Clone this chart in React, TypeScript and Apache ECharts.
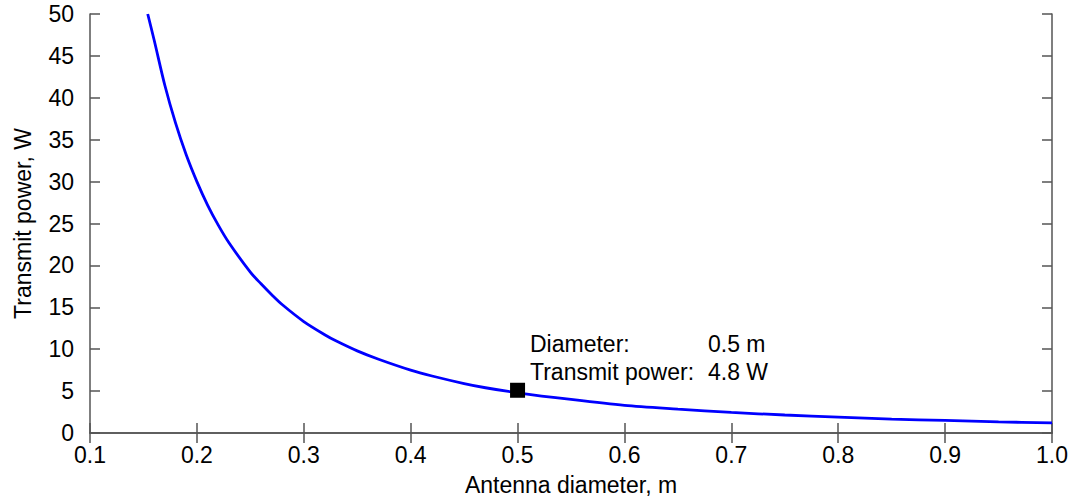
import React, { useEffect, useRef } from "react";
import * as echarts from "echarts";

const diameters = [0.154, 0.16, 0.17, 0.18, 0.19, 0.2, 0.21, 0.22, 0.23, 0.25, 0.26, 0.27, 0.28, 0.3, 0.32, 0.33, 0.35, 0.37, 0.4, 0.42, 0.45, 0.47, 0.5, 0.55, 0.6, 0.65, 0.7, 0.75, 0.8, 0.85, 0.9, 0.95, 1.0];
const powers = [50, 46.9, 41.5, 37, 33.2, 30, 27.2, 24.8, 22.7, 19.2, 17.8, 16.5, 15.3, 13.3, 11.7, 11.0, 9.8, 8.8, 7.5, 6.8, 5.9, 5.4, 4.8, 4.0, 3.3, 2.85, 2.45, 2.15, 1.9, 1.65, 1.5, 1.33, 1.2];
const markerPoint = [0.5, 5.1];
const xTitle = "Antenna diameter, m";
const yTitle = "Transmit power, W";
const annotationLabels = ["Diameter:", "Transmit power:"];
const annotationValues = ["0.5 m", "4.8 W"];

const FONT = "Liberation Sans, Arial, sans-serif";
const AXIS_COLOR = "#555";
const FS = 23;

export default function App() {
  const ref = useRef<HTMLDivElement>(null);
  useEffect(() => {
    if (!ref.current) return;
    const chart = echarts.init(ref.current, null, { renderer: "svg" });
    const axisCommon = {
      axisLine: { show: true, lineStyle: { color: AXIS_COLOR, width: 1.5 } },
      axisTick: { show: true, inside: true, length: 10, lineStyle: { color: AXIS_COLOR, width: 1.5 } },
      splitLine: { show: false },
    };
    chart.setOption({
      animation: false,
      backgroundColor: "#fff",
      grid: { left: 90, right: 20, top: 14, bottom: 65, containLabel: false, outerBoundsMode: "none" },
      xAxis: [
        {
          type: "value",
          min: 0.1,
          max: 1.0,
          interval: 0.1,
          ...axisCommon,
          axisLabel: {
            color: "#000",
            fontSize: FS,
            fontFamily: FONT,
            margin: 10,
            formatter: (v: number) => v.toFixed(1),
          },
          name: xTitle,
          nameLocation: "middle",
          nameGap: 40,
          nameTextStyle: { color: "#000", fontSize: FS, fontFamily: FONT, lineHeight: 24 },
        },
        {
          type: "value",
          position: "top",
          min: 0.1,
          max: 1.0,
          interval: 0.1,
          ...axisCommon,
          axisLabel: { show: false },
        },
      ],
      yAxis: [
        {
          type: "value",
          min: 0,
          max: 50,
          interval: 5,
          ...axisCommon,
          axisLabel: { color: "#000", fontSize: FS, fontFamily: FONT, margin: 16 },
          name: yTitle,
          nameLocation: "middle",
          nameGap: 56,
          nameRotate: 90,
          nameTextStyle: { color: "#000", fontSize: FS, fontFamily: FONT },
        },
        {
          type: "value",
          position: "right",
          min: 0,
          max: 50,
          interval: 5,
          ...axisCommon,
          axisLabel: { show: false },
        },
      ],
      series: [
        {
          type: "line",
          data: diameters.map((d, i) => [d, powers[i]]),
          smooth: 0.3,
          showSymbol: false,
          lineStyle: { color: "#0000ff", width: 2.8 },
          clip: true,
          z: 2,
        },
        {
          type: "scatter",
          data: [markerPoint],
          symbol: "rect",
          symbolSize: 15,
          itemStyle: { color: "#000", opacity: 1 },
          z: 3,
        },
      ],
      graphic: [
        {
          type: "text",
          left: 530,
          top: 332,
          style: { text: annotationLabels[0], fill: "#000", fontSize: FS, fontFamily: FONT },
        },
        {
          type: "text",
          left: 530,
          top: 360,
          style: { text: annotationLabels[1], fill: "#000", fontSize: FS, fontFamily: FONT },
        },
        {
          type: "text",
          left: 708,
          top: 332,
          style: { text: annotationValues[0], fill: "#000", fontSize: FS, fontFamily: FONT },
        },
        {
          type: "text",
          left: 708,
          top: 360,
          style: { text: annotationValues[1], fill: "#000", fontSize: FS, fontFamily: FONT },
        },
      ],
    });
    return () => chart.dispose();
  }, []);
  return (
    <div
      ref={ref}
      style={{ position: "fixed", left: 0, top: 0, width: 1072, height: 498 }}
    />
  );
}
